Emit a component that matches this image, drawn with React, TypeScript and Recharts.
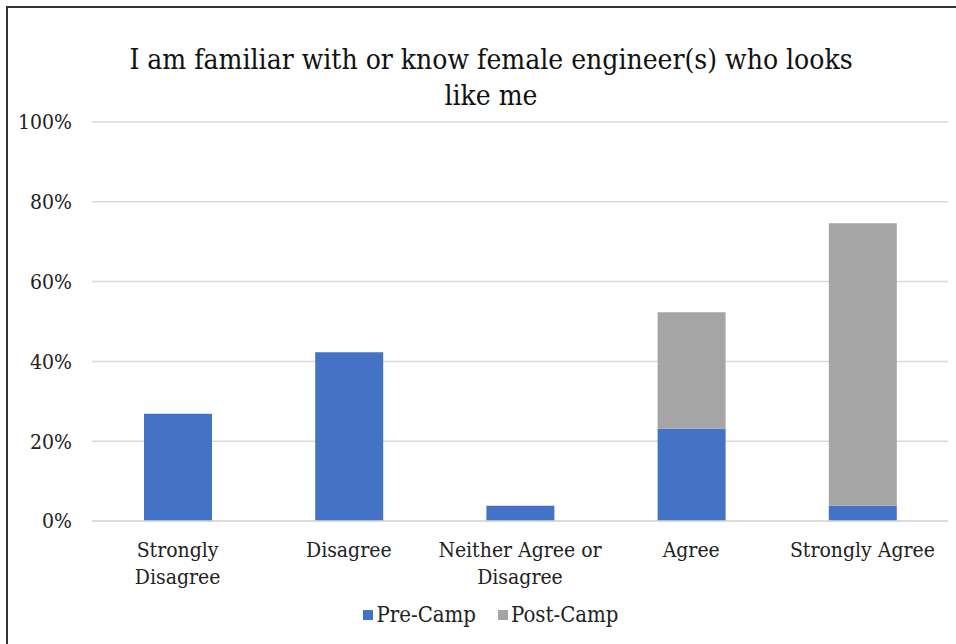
import React from "react";
import { BarChart, Bar, XAxis, YAxis, CartesianGrid } from "recharts";

const TITLE = "I am familiar with or know female engineer(s) who looks like me";
const CATEGORIES = [
  "Strongly\nDisagree",
  "Disagree",
  "Neither Agree or\nDisagree",
  "Agree",
  "Strongly Agree",
];
const PRE_CAMP = [26.9, 42.3, 3.8, 23.1, 3.8];
const POST_CAMP = [0, 0, 0, 29.2, 70.8];
const Y_TICKS = [0, 20, 40, 60, 80, 100];

const SERIES = [
  { key: "pre", name: "Pre-Camp", color: "#4472C4" },
  { key: "post", name: "Post-Camp", color: "#A5A5A5" },
];

const FONT = "'DejaVu Serif Condensed', 'DejaVu Serif'";

const data = CATEGORIES.map((c, i) => ({
  name: c,
  pre: PRE_CAMP[i],
  post: POST_CAMP[i],
}));

const CategoryTick = (props: any) => {
  const { x, y, payload } = props;
  const lines = String(payload.value).split("\n");
  return (
    <text
      x={x}
      y={y}
      textAnchor="middle"
      fill="#222"
      fontSize={21}
      fontFamily={FONT}
      fontStretch="condensed"
    >
      {lines.map((l, i) => (
        <tspan key={i} x={x} dy={i === 0 ? 28 : 27}>
          {l}
        </tspan>
      ))}
    </text>
  );
};

export default function App() {
  return (
    <div
      style={{
        position: "absolute",
        left: 0,
        top: 0,
        width: 956,
        height: 644,
        background: "#fff",
        overflow: "hidden",
        fontFamily: FONT,
        fontStretch: "condensed",
      }}
    >
      <div
        style={{
          position: "absolute",
          left: 491 - 380,
          top: 42,
          width: 760,
          textAlign: "center",
          fontSize: 28,
          lineHeight: "36px",
          color: "#111",
        }}
      >
        {TITLE}
      </div>
      <div
        style={{
          position: "absolute",
          left: 6,
          top: 6,
          width: 960,
          height: 650,
          borderLeft: "2px solid #333",
          borderTop: "2px solid #333",
        }}
      />
      <div style={{ position: "absolute", left: 0, top: 0 }}>
        <BarChart
          width={956}
          height={644}
          data={data}
          margin={{ top: 122, right: 8, bottom: 93, left: 12 }}
        >
          <CartesianGrid vertical={false} stroke="#d9d9d9" strokeWidth={1.5} />
          <XAxis
            dataKey="name"
            axisLine={{ stroke: "#d9d9d9", strokeWidth: 1.5 }}
            tickLine={false}
            tick={<CategoryTick />}
            interval={0}
          />
          <YAxis
            width={80}
            domain={[0, 100]}
            ticks={Y_TICKS}
            tickFormatter={(v) => `${v}%`}
            axisLine={false}
            tickLine={false}
            tickSize={0}
            tickMargin={20}
            tick={{
              fill: "#222",
              fontSize: 21,
              fontFamily: FONT,
              fontStretch: "condensed",
            }}
          />
          {SERIES.map((s) => (
            <Bar
              key={s.key}
              dataKey={s.key}
              name={s.name}
              stackId="a"
              fill={s.color}
              barSize={68}
              isAnimationActive={false}
            />
          ))}
        </BarChart>
      </div>
      <div
        style={{
          position: "absolute",
          left: 0,
          width: 982,
          top: 602,
          display: "flex",
          justifyContent: "center",
          fontSize: 22,
          color: "#222",
        }}
      >
        {SERIES.map((s) => (
          <div
            key={s.key}
            style={{ display: "flex", alignItems: "center", margin: "0 11px" }}
          >
            <span
              style={{
                display: "inline-block",
                width: 10,
                height: 10,
                background: s.color,
                marginRight: 3,
              }}
            />
            {s.name}
          </div>
        ))}
      </div>
    </div>
  );
}
